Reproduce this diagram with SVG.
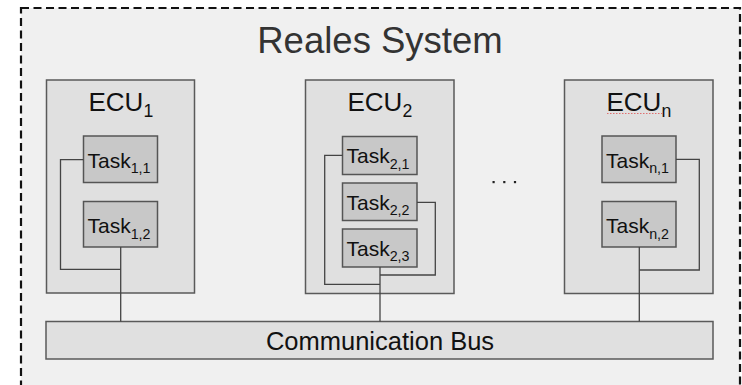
<svg xmlns="http://www.w3.org/2000/svg" width="742" height="385" viewBox="0 0 742 385">
  <style>
    text { font-family: "Liberation Sans", Arial, sans-serif; fill: #111; }
    .system { fill: #f0f0f0; stroke: #111; stroke-width: 2.2; stroke-dasharray: 8 4.5; }
    .ecu { fill: #e0e0e0; stroke: #5a5a5a; stroke-width: 1.5; }
    .task { fill: #c8c8c8; stroke: #555; stroke-width: 1.5; }
    .bus { fill: #e0e0e0; stroke: #5a5a5a; stroke-width: 1.5; }
    .wire { fill: none; stroke: #444; stroke-width: 1.3; }
    .title { font-size: 36.5px; fill: #333; }
    .ecu-label { font-size: 26px; }
    .task-label { font-size: 21px; }
    .bus-label { font-size: 25.5px; }
    .sub { font-size: 68%; }
  </style>

  <!-- system boundary -->
  <g id="system">
    <rect class="system" x="21" y="8" width="719" height="390"/>
    <text class="title" x="380" y="53" text-anchor="middle">Reales System</text>
  </g>

  <!-- ECU 1 -->
  <g id="ecu1">
    <rect class="ecu" x="46.5" y="80" width="148" height="213"/>
    <text class="ecu-label" x="88.5" y="111">ECU<tspan class="sub" dy="6">1</tspan></text>
  </g>
  <g id="task11">
    <rect class="task" x="83.5" y="136" width="74" height="46.5"/>
    <text class="task-label" x="87.5" y="167.5">Task<tspan class="sub" dy="5.5">1,1</tspan></text>
  </g>
  <g id="task12">
    <rect class="task" x="83.5" y="201.5" width="74" height="45.5"/>
    <text class="task-label" x="87.5" y="233">Task<tspan class="sub" dy="5.5">1,2</tspan></text>
  </g>

  <!-- ECU 2 -->
  <g id="ecu2">
    <rect class="ecu" x="305.5" y="80" width="148.5" height="213.5"/>
    <text class="ecu-label" x="347.5" y="111">ECU<tspan class="sub" dy="6">2</tspan></text>
  </g>
  <g id="task21">
    <rect class="task" x="342.5" y="136.5" width="74.5" height="38"/>
    <text class="task-label" x="346.5" y="163">Task<tspan class="sub" dy="5.5">2,1</tspan></text>
  </g>
  <g id="task22">
    <rect class="task" x="342.5" y="183" width="74.5" height="37.5"/>
    <text class="task-label" x="346.5" y="209.5">Task<tspan class="sub" dy="5.5">2,2</tspan></text>
  </g>
  <g id="task23">
    <rect class="task" x="342.5" y="229" width="74.5" height="38"/>
    <text class="task-label" x="346.5" y="255.5">Task<tspan class="sub" dy="5.5">2,3</tspan></text>
  </g>

  <!-- ellipsis between ECUs -->
  <g id="ellipsis" fill="#222">
    <rect x="492.5" y="181" width="2.2" height="2.2"/>
    <rect x="503.2" y="181" width="2.2" height="2.2"/>
    <rect x="513.9" y="181" width="2.2" height="2.2"/>
  </g>

  <!-- ECU n -->
  <g id="ecun">
    <rect class="ecu" x="564.5" y="80" width="148.5" height="213.5"/>
    <text class="ecu-label" x="606.5" y="111">ECU<tspan class="sub" dy="6">n</tspan></text>
    <path d="M607 113.5 h56" stroke="#e07070" stroke-width="1" stroke-dasharray="1.5 1.5" fill="none"/>
  </g>
  <g id="taskn1">
    <rect class="task" x="602" y="136" width="74" height="46.5"/>
    <text class="task-label" x="606" y="167.5">Task<tspan class="sub" dy="5.5">n,1</tspan></text>
  </g>
  <g id="taskn2">
    <rect class="task" x="602" y="201.5" width="74" height="45.5"/>
    <text class="task-label" x="606" y="233">Task<tspan class="sub" dy="5.5">n,2</tspan></text>
  </g>

  <!-- communication bus -->
  <g id="bus">
    <rect class="bus" x="46" y="321.5" width="667" height="37.5"/>
    <text class="bus-label" x="380" y="349.5" text-anchor="middle">Communication Bus</text>
  </g>

  <!-- connectors -->
  <g id="connectors">
    <path class="wire" d="M83.5 159.7 H60.5 V269.3 H120.7"/>
    <path class="wire" d="M120.7 247 V321.5"/>
    <path class="wire" d="M342.5 155.3 H324.7 V284.3 H380"/>
    <path class="wire" d="M417 202.3 H435.3 V275 H380"/>
    <path class="wire" d="M380 267 V321.5"/>
    <path class="wire" d="M676 159.3 H699.3 V270 H639.3"/>
    <path class="wire" d="M639.3 247 V321.5"/>
  </g>
</svg>
